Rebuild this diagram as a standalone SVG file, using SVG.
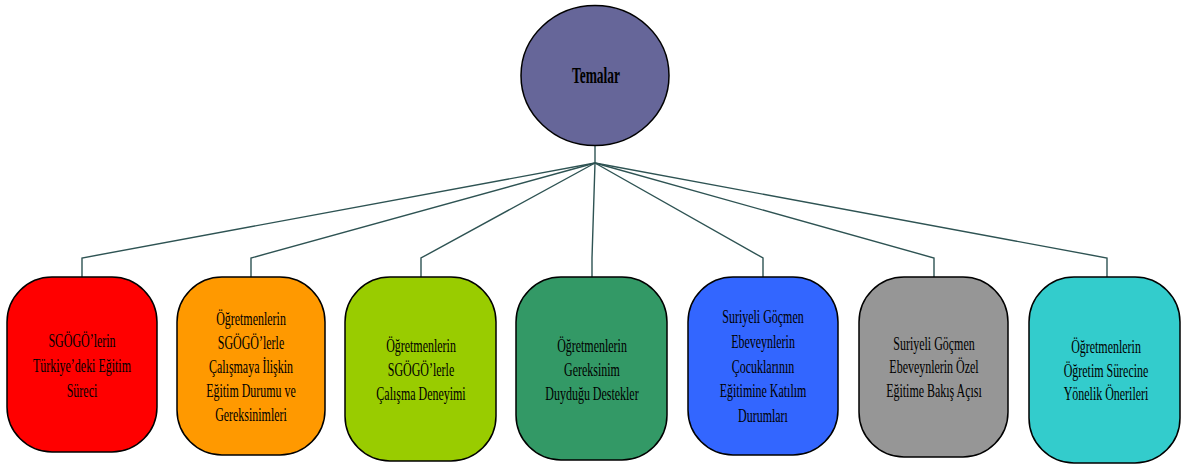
<svg xmlns="http://www.w3.org/2000/svg" width="1182" height="467" viewBox="0 0 1182 467">
<style>
.box{stroke:#000;stroke-width:1.5}
.t{font-family:"Liberation Serif","Times New Roman",serif;font-size:19px;fill:#000;text-anchor:middle}
.tb{font-family:"Liberation Serif","Times New Roman",serif;font-size:24px;font-weight:bold;fill:#000;text-anchor:middle}
.c{fill:none;stroke:#2E5353;stroke-width:1.4}
</style>
<rect width="1182" height="467" fill="#fff"/>
<g id="connectors">
<line class="c" x1="595" y1="145" x2="595" y2="163"/>
<polyline class="c" points="595,163 82,258 82,277"/>
<polyline class="c" points="595,163 251,258 251,277"/>
<polyline class="c" points="595,163 421,258 421,277"/>
<polyline class="c" points="595,163 592,258 592,277"/>
<polyline class="c" points="595,163 763,258 763,277"/>
<polyline class="c" points="595,163 934,258 934,277"/>
<polyline class="c" points="595,163 1107,258 1107,277"/>
</g>
<g id="root">
<ellipse cx="595" cy="75.5" rx="74" ry="70" fill="#666699" stroke="#000" stroke-width="1.5"/>
<g transform="translate(596 0) scale(0.56 1)"><text class="tb" x="0" y="83">Temalar</text></g>
</g>
<g id="n1">
<rect class="box" x="7" y="277" width="150" height="175" rx="45" fill="#FF0000"/>
<g transform="translate(82 0) scale(0.63 1)">
<text class="t" x="0" y="347">SGÖGÖ’lerin</text>
<text class="t" x="0" y="372">Türkiye’deki Eğitim</text>
<text class="t" x="0" y="397">Süreci</text>
</g>
</g>
<g id="n2">
<rect class="box" x="177" y="277" width="148" height="178" rx="45" fill="#FF9900"/>
<g transform="translate(251 0) scale(0.63 1)">
<text class="t" x="0" y="325">Öğretmenlerin</text>
<text class="t" x="0" y="349">SGÖGÖ’lerle</text>
<text class="t" x="0" y="373">Çalışmaya İlişkin</text>
<text class="t" x="0" y="397">Eğitim Durumu ve</text>
<text class="t" x="0" y="421">Gereksinimleri</text>
</g>
</g>
<g id="n3">
<rect class="box" x="345" y="277" width="151" height="184" rx="45" fill="#99CC00"/>
<g transform="translate(421 0) scale(0.63 1)">
<text class="t" x="0" y="352">Öğretmenlerin</text>
<text class="t" x="0" y="376">SGÖGÖ’lerle</text>
<text class="t" x="0" y="400">Çalışma Deneyimi</text>
</g>
</g>
<g id="n4">
<rect class="box" x="516" y="277" width="151" height="183" rx="45" fill="#339966"/>
<g transform="translate(592 0) scale(0.63 1)">
<text class="t" x="0" y="352">Öğretmenlerin</text>
<text class="t" x="0" y="376">Gereksinim</text>
<text class="t" x="0" y="400">Duyduğu Destekler</text>
</g>
</g>
<g id="n5">
<rect class="box" x="688" y="277" width="150" height="178" rx="45" fill="#3366FF"/>
<g transform="translate(763 0) scale(0.63 1)">
<text class="t" x="0" y="323">Suriyeli Göçmen</text>
<text class="t" x="0" y="348">Ebeveynlerin</text>
<text class="t" x="0" y="373">Çocuklarının</text>
<text class="t" x="0" y="397">Eğitimine Katılım</text>
<text class="t" x="0" y="422">Durumları</text>
</g>
</g>
<g id="n6">
<rect class="box" x="859" y="277" width="149" height="180" rx="45" fill="#969696"/>
<g transform="translate(934 0) scale(0.63 1)">
<text class="t" x="0" y="350">Suriyeli Göçmen</text>
<text class="t" x="0" y="373">Ebeveynlerin Özel</text>
<text class="t" x="0" y="397">Eğitime Bakış Açısı</text>
</g>
</g>
<g id="n7">
<rect class="box" x="1029" y="277" width="151" height="186" rx="45" fill="#33CCCC"/>
<g transform="translate(1106 0) scale(0.63 1)">
<text class="t" x="0" y="353">Öğretmenlerin</text>
<text class="t" x="0" y="377">Öğretim Sürecine</text>
<text class="t" x="0" y="400">Yönelik Önerileri</text>
</g>
</g>
</svg>
